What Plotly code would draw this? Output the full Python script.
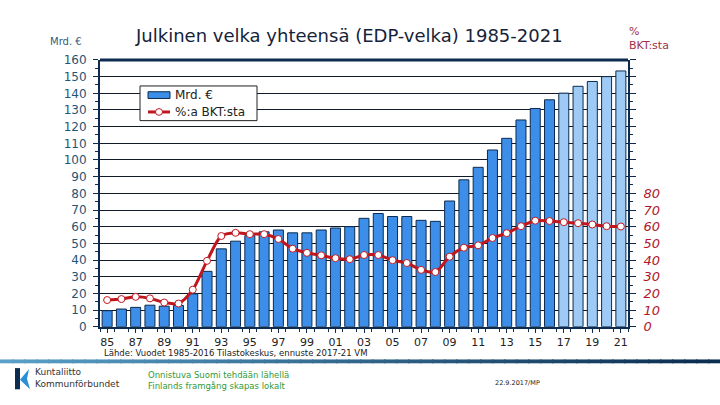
import plotly.graph_objects as go

years = list(range(1985, 2022))
debt_bn = [9.6, 10.6, 11.6, 12.9, 12.3, 12.7, 19.7, 33.2, 46.7, 51.3, 54.6, 56.9, 58.0, 56.3, 56.3,
           58.0, 59.2, 60.0, 65.0, 67.9, 66.1, 66.1, 63.8, 63.2, 75.4, 88.1, 95.6, 106.0, 113.0,
           124.0, 130.9, 136.1, 140.1, 144.2, 147.1, 150.0, 153.4]
debt_pct = [16.0, 16.6, 17.9, 17.0, 14.5, 13.9, 22.2, 39.5, 54.4, 56.3, 55.5, 55.5, 52.6, 46.8, 44.3,
            42.8, 41.1, 40.5, 43.0, 43.0, 39.9, 38.2, 34.1, 32.8, 42.0, 47.4, 48.8, 53.2, 56.1,
            60.3, 63.6, 63.4, 62.7, 62.1, 61.3, 60.3, 60.1]
forecast_from = 2017
xtick_years = list(range(1985, 2022, 2))
xtick_text = [str(y)[2:] for y in xtick_years]
left_ticks = list(range(0, 170, 10))
right_tick_vals = list(range(0, 170, 10))
right_tick_text = [str(v) if v <= 80 else "" for v in right_tick_vals]

W, H = 720, 405
def px(x): return x / W
def py(y): return 1 - y / H

FONT = "DejaVu Sans"
NAVY = "#0d2b4e"
BLUE = "#3d8ee8"
LIGHT = "#9ecbf5"
RED = "#c0171f"
bar_colors = [BLUE if y < forecast_from else LIGHT for y in years]

fig = go.Figure()
fig.add_trace(go.Bar(x=years, y=debt_bn, name="Mrd. €", marker=dict(color=bar_colors,
                     line=dict(color=NAVY, width=1)), yaxis="y", showlegend=False))
fig.add_trace(go.Scatter(x=years, y=debt_pct, name="%:a BKT:sta", mode="lines+markers",
                         line=dict(color=RED, width=3, shape="spline", smoothing=0.8),
                         marker=dict(symbol="circle", size=7, color="white",
                                     line=dict(color=RED, width=1)),
                         yaxis="y2", showlegend=False))

fig.update_layout(
    width=W, height=H, margin=dict(l=0, r=0, t=0, b=0),
    paper_bgcolor="white", plot_bgcolor="white",
    font=dict(family=FONT, size=11, color="#222"),
    bargap=0.3,
    xaxis=dict(domain=[px(100), px(628)], range=[1984.5, 2021.5], tickvals=xtick_years,
               ticktext=xtick_text, ticks="outside", ticklen=4, tickcolor=NAVY,
               showline=True, linecolor=NAVY, linewidth=2, showgrid=False,
               tickfont=dict(family=FONT, size=11, color="#222"),
               minor=dict(dtick=1, tick0=1984.5, ticks="outside", ticklen=3, tickcolor=NAVY)),
    yaxis=dict(domain=[py(332), py(55)], range=[0, 160], tickvals=left_ticks,
               ticks="outside", ticklen=5, tickcolor=NAVY, showline=True, linecolor=NAVY,
               linewidth=2, showgrid=True, gridcolor="#111826", gridwidth=1.3, zeroline=False,
               ticklabelstandoff=4,
               tickfont=dict(family=FONT, size=12, color="#1f5575"),
               minor=dict(dtick=5, ticks="outside", ticklen=3, tickcolor=NAVY)),
    yaxis2=dict(overlaying="y", side="right", range=[0, 160], tickvals=right_tick_vals,
                ticktext=right_tick_text, ticks="outside", ticklen=6, tickcolor=NAVY,
                showline=True, linecolor=NAVY, linewidth=2, showgrid=False, zeroline=False,
                ticklabelstandoff=5,
                tickfont=dict(family=FONT, size=13, color="#b0182a", style="italic"),
                minor=dict(dtick=5, ticks="outside", ticklen=3, tickcolor=NAVY)),
    showlegend=False,
)

# top border of plot area
fig.add_shape(type="line", xref="x domain", yref="y domain", x0=0, x1=1, y0=1, y1=1,
              line=dict(color=NAVY, width=3))

# legend box (drawn)
fig.add_shape(type="rect", xref="paper", yref="paper", x0=px(140), x1=px(257), y0=py(118), y1=py(82),
              fillcolor="white", line=dict(color="#222", width=1), layer="above")
fig.add_shape(type="rect", xref="paper", yref="paper", x0=px(148), x1=px(170), y0=py(95), y1=py(88),
              fillcolor=BLUE, line=dict(color=NAVY, width=1), layer="above")
fig.add_shape(type="line", xref="paper", yref="paper", x0=px(148), x1=px(170), y0=py(109), y1=py(109),
              line=dict(color=RED, width=3), layer="above")
fig.add_shape(type="circle", xref="paper", yref="paper", x0=px(155.5), x1=px(162.5), y0=py(112.5), y1=py(105.5),
              fillcolor="white", line=dict(color=RED, width=1), layer="above")

# gradient separator line
n = 60
c0 = (90, 160, 200)
c1 = (10, 45, 80)
for i in range(n):
    t = i / (n - 1)
    col = "rgb(%d,%d,%d)" % tuple(int(a + (b - a) * t) for a, b in zip(c0, c1))
    fig.add_shape(type="rect", xref="paper", yref="paper", x0=i / n, x1=(i + 1) / n + 0.002,
                  y0=py(370), y1=py(366), fillcolor=col, line=dict(width=0), layer="above")

# logo shapes
fig.add_shape(type="path", xref="paper", yref="paper",
              path="M %f %f L %f %f L %f %f L %f %f Z" % (px(15), py(375), px(20), py(375), px(20), py(397), px(15), py(397)),
              fillcolor="#0d2b4e", line=dict(width=0))
fig.add_shape(type="path", xref="paper", yref="paper",
              path="M %f %f L %f %f L %f %f L %f %f Z" % (px(20), py(387), px(29), py(376), px(27), py(386), px(30), py(397)),
              fillcolor="#2b8fd6", line=dict(width=0))

ann = [
    dict(x=px(133), y=py(30), text="Julkinen velka yhteensä (EDP-velka) 1985-2021", size=18, color="#15233a"),
    dict(x=px(48), y=py(36), text="Mrd. €", size=10, color="#2f5d7c"),
    dict(x=px(627), y=py(33), text="%<br>BKT:sta", size=11, color="#a0304a"),
    dict(x=px(173), y=py(91.5), text="Mrd. €", size=12, color="#222"),
    dict(x=px(173), y=py(109), text="%:a BKT:sta", size=12, color="#222"),
    dict(x=px(102), y=py(359.5), text="Lähde: Vuodet 1985-2016 Tilastokeskus, ennuste 2017-21 VM", size=8.5, color="#222"),
    dict(x=px(33), y=py(385.5), text="Kuntaliitto<br>Kommunförbundet", size=9, color="#333"),
    dict(x=px(146), y=py(387.5), text="Onnistuva Suomi tehdään lähellä<br>Finlands framgång skapas lokalt", size=8.5, color="#2f9a3a"),
    dict(x=px(493), y=py(390), text="22.9.2017/MP", size=6.5, color="#222"),
]
for a in ann:
    fig.add_annotation(x=a["x"], y=a["y"], xref="paper", yref="paper", text=a["text"], showarrow=False,
                       xanchor="left", yanchor="middle", align="left",
                       font=dict(family=FONT, size=a["size"], color=a["color"]))

fig.write_html("out.html", config={"displayModeBar": False},
               post_script="document.body.style.margin='0';document.body.style.padding='0';")
